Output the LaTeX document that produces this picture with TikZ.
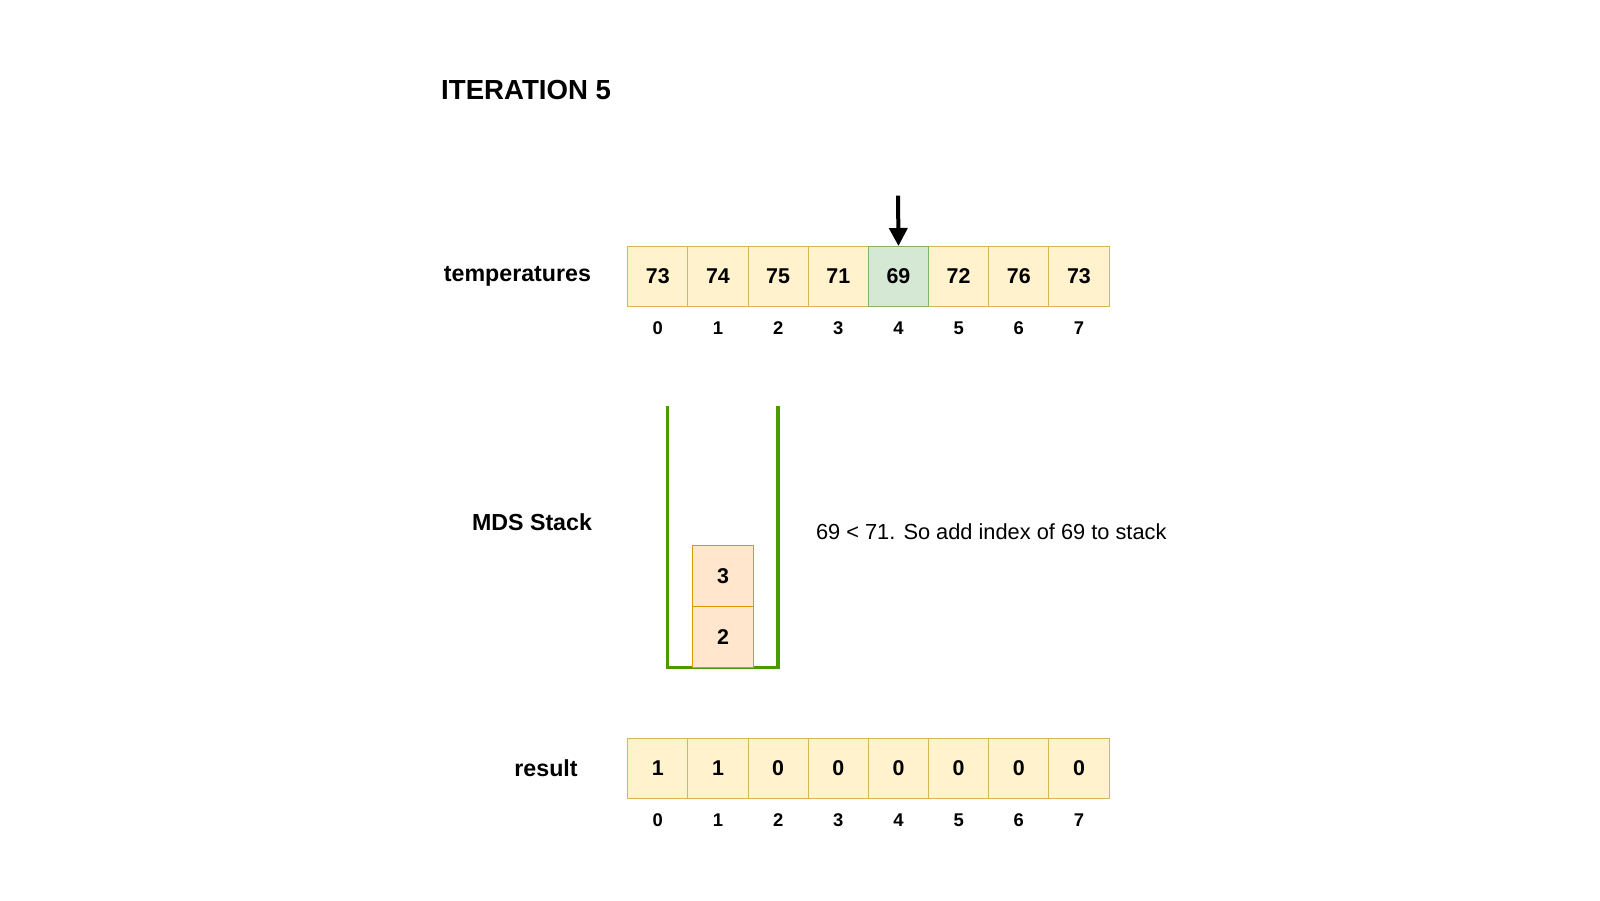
\documentclass[tikz,border=0pt]{standalone}
\usepackage{fontspec}
\setmainfont{Liberation Sans}
\usetikzlibrary{positioning,arrows.meta}
\definecolor{cellfill}{HTML}{FFF2CC}
\definecolor{celldraw}{HTML}{D6B656}
\definecolor{curfill}{HTML}{D5E8D4}
\definecolor{curdraw}{HTML}{82B366}
\definecolor{stkfill}{HTML}{FFE6CC}
\definecolor{stkdraw}{HTML}{D79B00}
\definecolor{stkwall}{HTML}{4D9900}
\tikzset{
    cell/.style={draw=celldraw, fill=cellfill, minimum size=30.1pt, inner sep=0pt, font=\fontsize{10.7}{12}\selectfont\bfseries},
    idx/.style={font=\fontsize{9.2}{11}\selectfont\bfseries},
    lbl/.style={font=\fontsize{11.6}{13}\selectfont\bfseries, anchor=east}
}
\begin{document}
\begin{tikzpicture}[x=0.512pt, y=-0.512pt]
    \useasboundingbox (0,0) rectangle (1562.5,879);
    \node[anchor=west, font=\fontsize{13.8}{16}\selectfont\bfseries] (title) at (424,88) {ITERATION 5};
    % temperatures row
    \node[lbl] (tlabel) at (584,270) {temperatures};
    \foreach \v [count=\i from 0] in {73,74,75,71,69,72,76,73} {
        \node[cell] (t\i) at ({642.4+58.75*\i},270) {\v};
        \node[idx, below=4pt of t\i] (ti\i) {\i};
    }
    \node[cell, draw=curdraw, fill=curfill] at (t4) {69};
    \coordinate (arrtop) at (877,191);
    \draw[-{Triangle[length=9pt,width=9pt]}, line width=2pt] (arrtop) -- (t4.north);
    % stack
    \node[lbl] (slabel) at (585,510) {MDS Stack};
    \draw[stkwall, line width=1.8pt] (652,396) -- (652,652) -- (760,652) -- (760,396);
    \node[cell, draw=stkdraw, fill=stkfill] (s0) at (706,622) {2};
    \node[cell, draw=stkdraw, fill=stkfill, above=0pt of s0] (s1) {3};
    \node[anchor=west, font=\fontsize{10.9}{12}\selectfont] (note) at (790,519) {69 < 71. So add index of 69 to stack};
    % result row
    \node[lbl] (rlabel) at (571,750) {result};
    \foreach \v [count=\i from 0] in {1,1,0,0,0,0,0,0} {
        \node[cell] (r\i) at ({642.4+58.75*\i},750) {\v};
        \node[idx, below=4pt of r\i] (ri\i) {\i};
    }
\end{tikzpicture}
\end{document}
